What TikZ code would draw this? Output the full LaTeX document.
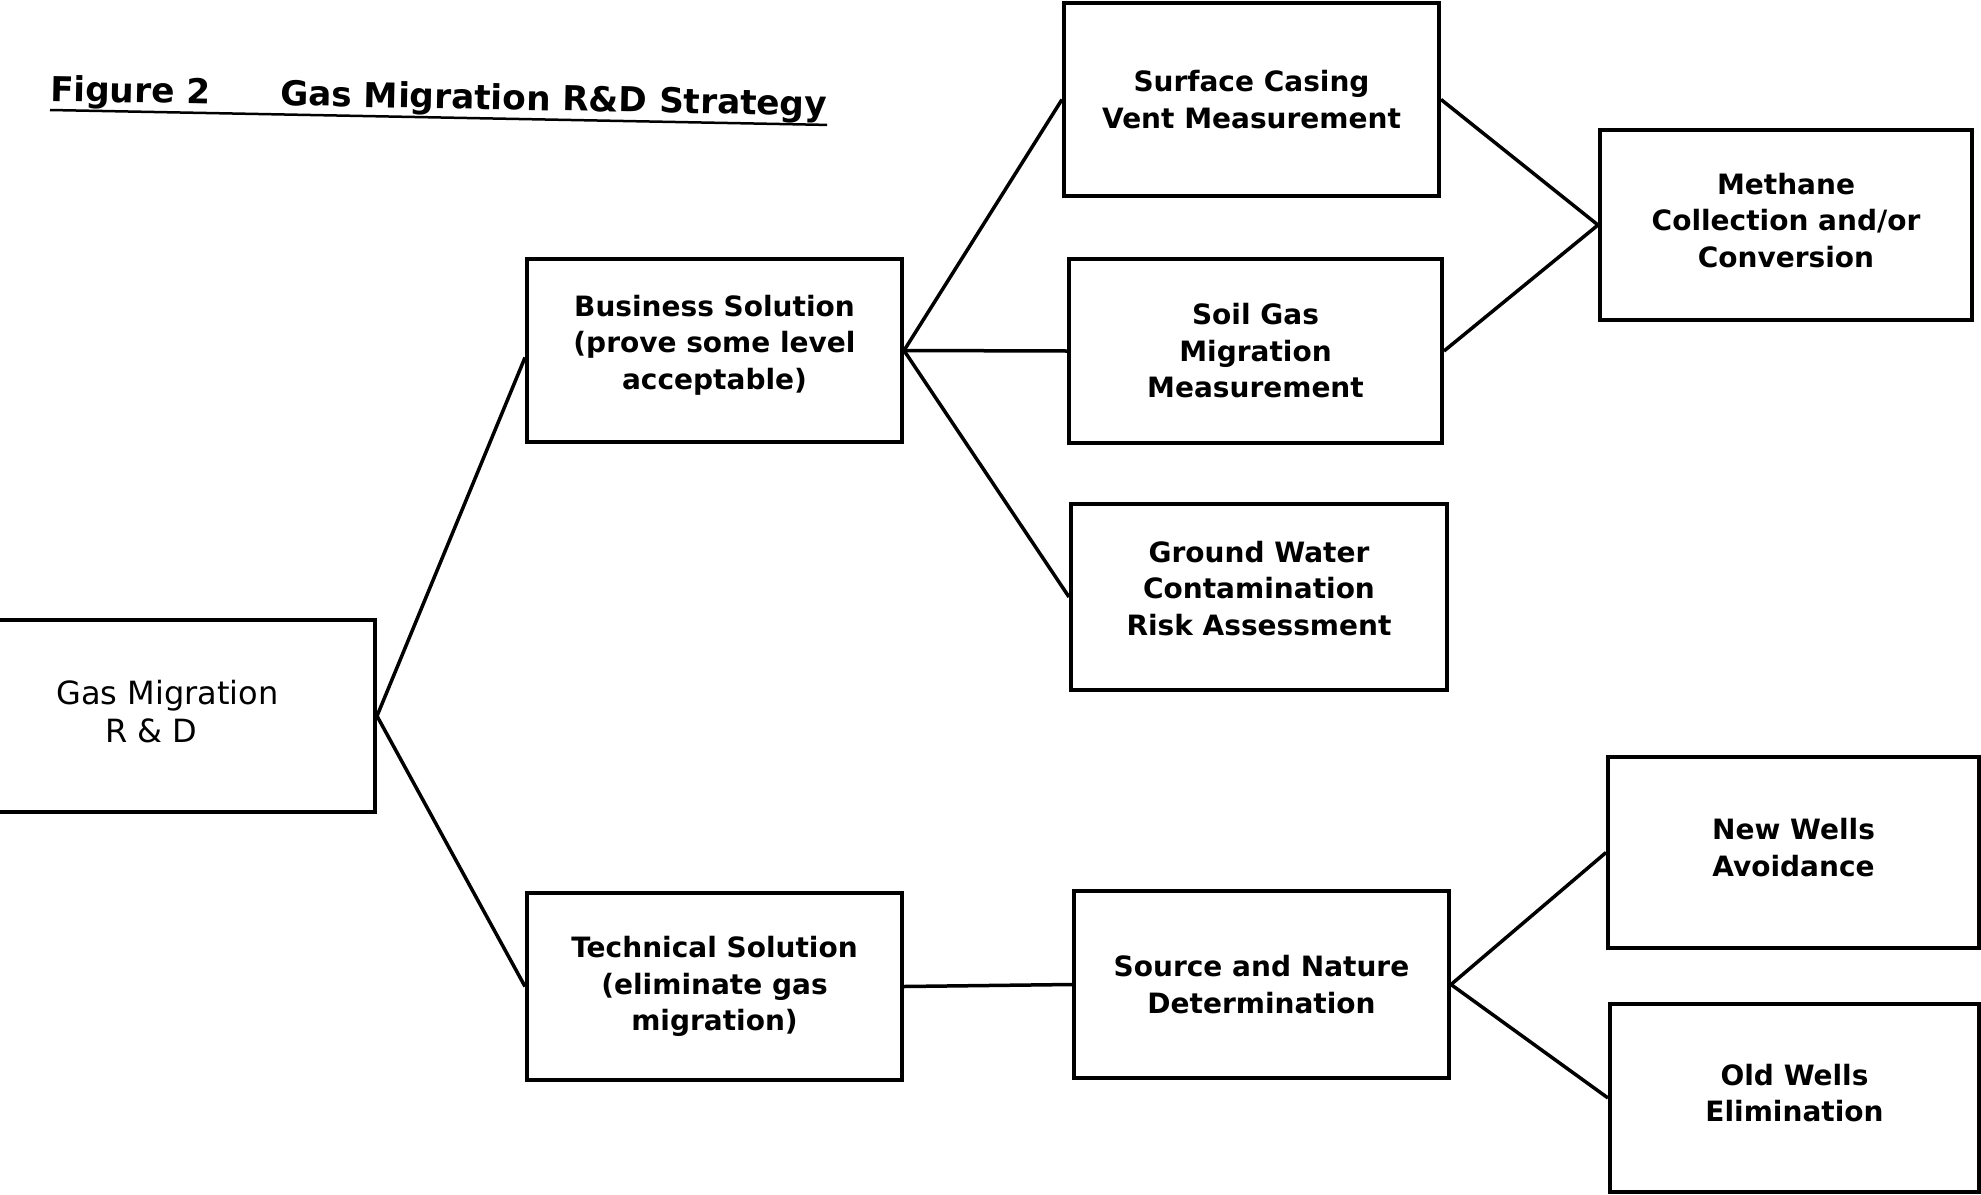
\documentclass[tikz,border=0pt]{standalone}
\usepackage{fontspec}
\setmainfont{DejaVu Sans}
\newcommand\lift[1]{\rule[-#1]{0pt}{#1}}
\begin{document}
\begin{tikzpicture}[x=1pt, y=-1pt,
  box/.style={draw, rectangle, line width=4pt, inner sep=0pt, align=center,
    font=\bfseries\fontsize{28}{36.5}\selectfont},
  plainbox/.style={box, font=\fontsize{32}{38}\selectfont, align=left},
  conn/.style={line width=3.5pt}]
\useasboundingbox (0,0) rectangle (1981,1194);
\fill[white] (0,0) rectangle (1981,1194);

% title
\node[anchor=base west, inner sep=0pt, rotate=-1.1,
  font=\bfseries\fontsize{34.3}{40}\selectfont] (title) at (50,101)
  {Figure 2\hspace{70pt}Gas Migration R\&D Strategy};
\draw[line width=2.5pt] ([yshift=-9pt]title.base west) -- ([yshift=-9pt]title.base east);

% boxes
\node[plainbox, minimum width=415, minimum height=192] (gm) at (167.5,716)
  {Gas Migration\\\hspace*{49pt}R \& D\lift{10pt}};
\node[box, minimum width=375, minimum height=183] (bs) at (714.5,350.5)
  {Business Solution\\(prove some level\\acceptable)\lift{17pt}};
\node[box, minimum width=375, minimum height=187] (ts) at (714.5,986.5)
  {Technical Solution\\(eliminate gas\\migration)};
\node[box, minimum width=375, minimum height=193] (sc) at (1251.5,99.5)
  {Surface Casing\\Vent Measurement};
\node[box, minimum width=373, minimum height=184] (sg) at (1255.5,351)
  {Soil Gas\\Migration\\Measurement};
\node[box, minimum width=376, minimum height=186] (gw) at (1259,597)
  {Ground Water\\Contamination\\Risk Assessment\lift{18pt}};
\node[box, minimum width=372, minimum height=190] (me) at (1786,225)
  {Methane\\Collection and/or\\Conversion\lift{10pt}};
\node[box, minimum width=375, minimum height=187] (sn) at (1261.5,984.5)
  {Source and Nature\\Determination};
\node[box, minimum width=371, minimum height=191] (nw) at (1793.5,852.5)
  {New Wells\\Avoidance\lift{10pt}};
\node[box, minimum width=369, minimum height=188] (ow) at (1794.5,1098)
  {Old Wells\\Elimination\lift{10pt}};

% connectors
\draw[conn] (gm.east) -- ([yshift=-7pt]bs.west);
\draw[conn] (gm.east) -- (ts.west);
\draw[conn] (bs.east) -- (sc.west);
\draw[conn] (bs.east) -- (sg.west);
\draw[conn] (bs.east) -- (gw.west);
\draw[conn] (sc.east) -- (me.west);
\draw[conn] (sg.east) -- (me.west);
\draw[conn] (ts.east) -- (sn.west);
\draw[conn] (sn.east) -- (nw.west);
\draw[conn] (sn.east) -- (ow.west);
\end{tikzpicture}
\end{document}
